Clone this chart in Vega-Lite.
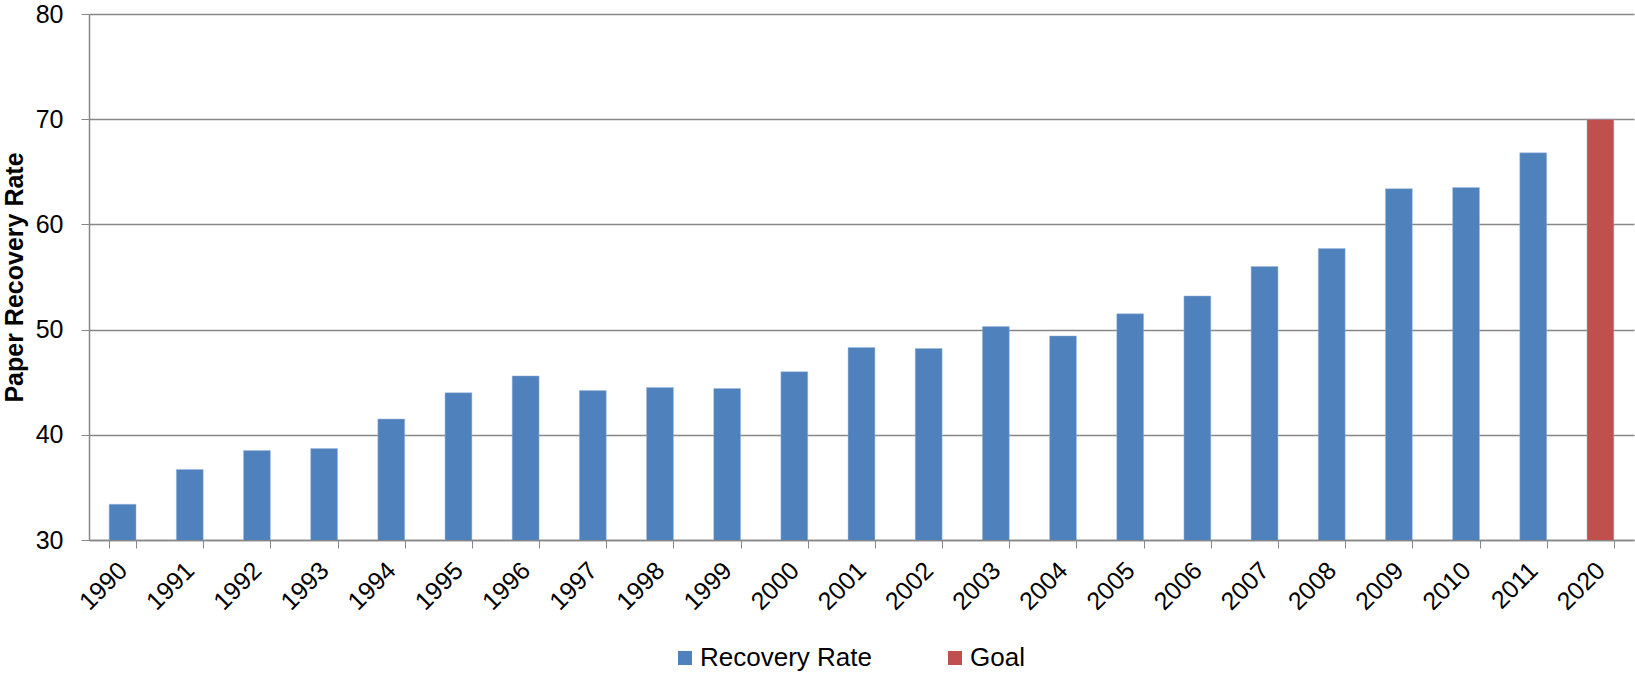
{
  "$schema": "https://vega.github.io/schema/vega-lite/v6.json",
  "autosize": "none",
  "padding": {"left": 89, "top": 14, "right": 1, "bottom": 134},
  "width": 1545,
  "height": 526,
  "background": "white",
  "config": {
    "view": {"stroke": null},
    "font": "Liberation Sans"
  },
  "data": {
    "values": [
      {"year": "1990", "rate": 33.4, "series": "Recovery Rate"},
      {"year": "1991", "rate": 36.7, "series": "Recovery Rate"},
      {"year": "1992", "rate": 38.5, "series": "Recovery Rate"},
      {"year": "1993", "rate": 38.7, "series": "Recovery Rate"},
      {"year": "1994", "rate": 41.5, "series": "Recovery Rate"},
      {"year": "1995", "rate": 44.0, "series": "Recovery Rate"},
      {"year": "1996", "rate": 45.6, "series": "Recovery Rate"},
      {"year": "1997", "rate": 44.2, "series": "Recovery Rate"},
      {"year": "1998", "rate": 44.5, "series": "Recovery Rate"},
      {"year": "1999", "rate": 44.4, "series": "Recovery Rate"},
      {"year": "2000", "rate": 46.0, "series": "Recovery Rate"},
      {"year": "2001", "rate": 48.3, "series": "Recovery Rate"},
      {"year": "2002", "rate": 48.2, "series": "Recovery Rate"},
      {"year": "2003", "rate": 50.3, "series": "Recovery Rate"},
      {"year": "2004", "rate": 49.4, "series": "Recovery Rate"},
      {"year": "2005", "rate": 51.5, "series": "Recovery Rate"},
      {"year": "2006", "rate": 53.2, "series": "Recovery Rate"},
      {"year": "2007", "rate": 56.0, "series": "Recovery Rate"},
      {"year": "2008", "rate": 57.7, "series": "Recovery Rate"},
      {"year": "2009", "rate": 63.4, "series": "Recovery Rate"},
      {"year": "2010", "rate": 63.5, "series": "Recovery Rate"},
      {"year": "2011", "rate": 66.8, "series": "Recovery Rate"},
      {"year": "2020", "rate": 70.0, "series": "Goal"}
    ]
  },
  "mark": {"type": "bar", "clip": true, "stroke": "#9fb9dc", "strokeWidth": 0.8, "strokeOpacity": 0.6},
  "encoding": {
    "x": {
      "field": "year",
      "type": "ordinal",
      "sort": null,
      "scale": {"paddingInner": 0.6, "paddingOuter": 0.3},
      "axis": {
        "title": null,
        "labelAngle": -45,
        "labelAlign": "right",
        "labelBaseline": "middle",
        "labelFontSize": 25,
        "labelColor": "#000000",
        "labelPadding": 18,
        "labelLimit": 300,
        "tickBand": "extent",
        "tickSize": 8,
        "tickColor": "#878787",
        "domainColor": "#878787",
        "domainWidth": 1.5,
        "grid": false
      }
    },
    "y": {
      "field": "rate",
      "type": "quantitative",
      "scale": {"domain": [30, 80], "nice": false, "zero": false},
      "axis": {
        "title": "Paper Recovery Rate",
        "titleFontSize": 25,
        "titleFontWeight": "bold",
        "titleColor": "#000000",
        "titlePadding": 8,
        "values": [30, 40, 50, 60, 70, 80],
        "labelFontSize": 25,
        "labelColor": "#000000",
        "labelPadding": 18,
        "tickSize": 8,
        "tickColor": "#878787",
        "domainColor": "#878787",
        "domainWidth": 1.5,
        "grid": true,
        "gridColor": "#878787",
        "gridWidth": 1.5
      }
    },
    "color": {
      "field": "series",
      "type": "nominal",
      "scale": {"domain": ["Recovery Rate", "Goal"], "range": ["#4F81BD", "#C0504D"]},
      "legend": {
        "title": null,
        "orient": "none",
        "direction": "horizontal",
        "legendX": 583,
        "legendY": 631,
        "padding": 0,
        "symbolType": "square",
        "symbolSize": 196,
        "symbolStrokeWidth": 0,
        "labelFontSize": 26,
        "labelColor": "#000000",
        "labelOffset": 2,
        "labelLimit": 400,
        "columnPadding": 70
      }
    }
  }
}
